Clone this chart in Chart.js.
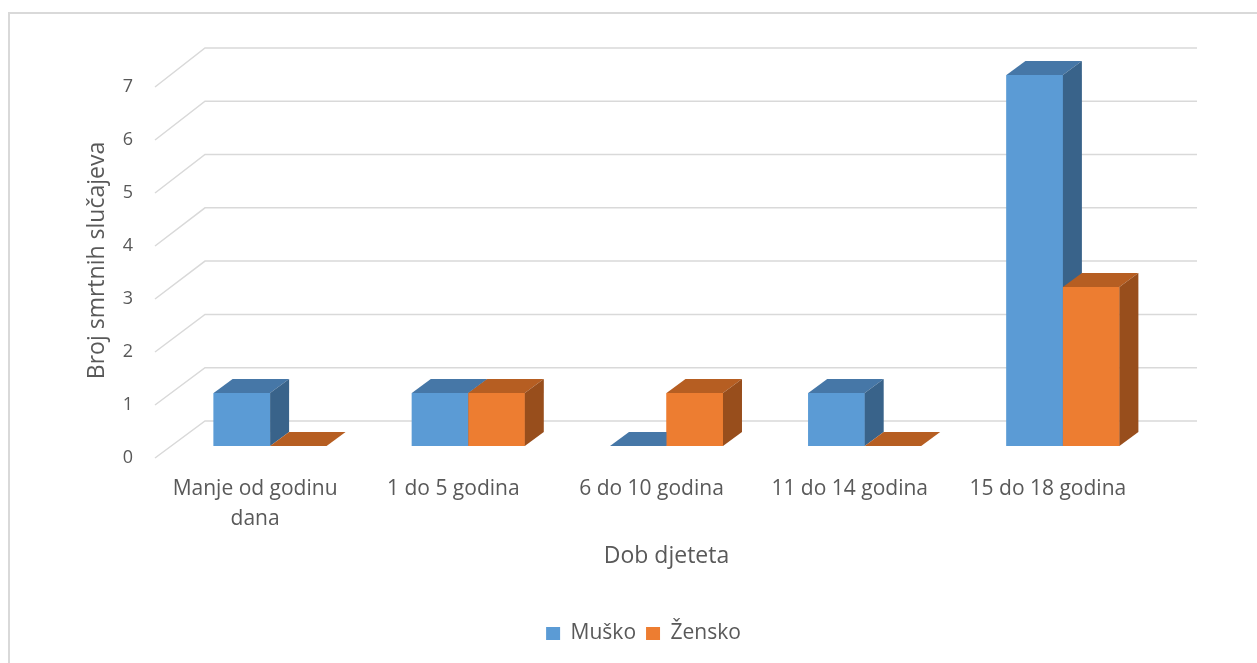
<!DOCTYPE html>
<html>
<head>
<meta charset="utf-8">
<script src="https://cdn.jsdelivr.net/npm/chart.js@4"></script>
<style>
  html, body { margin: 0; padding: 0; background: #fff; }
  #wrap { width: 1257px; height: 663px; position: relative; }
</style>
</head>
<body>
<div id="wrap"><canvas id="chart"></canvas></div>
<script>
// values
const categories = [['Manje od godinu', 'dana'], '1 do 5 godina', '6 do 10 godina', '11 do 14 godina', '15 do 18 godina'];
const musko = [1, 1, 0, 1, 7];
const zensko = [0, 1, 1, 0, 3];
const yMax = 7;

const COLORS = {
  blue: '#5b9bd5',
  blueTop: '#4677a7',
  blueSide: '#39638a',
  orange: '#ed7d31',
  orangeTop: '#b65e22',
  orangeSide: '#984e1c',
  grid: '#d9d9d9',
  text: '#595959'
};
const FONT = '"Open Sans", "Noto Sans", sans-serif';

// 3d depth of the bars
const DX = 19, DY = -14;

function poly(ctx, pts, fill) {
  ctx.beginPath();
  ctx.moveTo(pts[0][0], pts[0][1]);
  for (let i = 1; i < pts.length; i++) ctx.lineTo(pts[i][0], pts[i][1]);
  ctx.closePath();
  ctx.fillStyle = fill;
  ctx.fill();
}

const fake3d = {
  id: 'fake3d',
  beforeDraw(chart) {
    const ctx = chart.ctx;
    ctx.save();
    ctx.strokeStyle = COLORS.grid;
    ctx.lineWidth = 2;
    ctx.strokeRect(9, 13, 1400, 800);
    ctx.restore();
  },
  // floor/wall grid lines: short diagonal at the front, then along the back wall
  beforeDatasetsDraw(chart) {
    const ctx = chart.ctx;
    const ca = chart.chartArea;
    const ys = chart.scales.y;
    ctx.save();
    ctx.strokeStyle = COLORS.grid;
    ctx.lineWidth = 1.5;
    ys.ticks.forEach(t => {
      const yp = ys.getPixelForValue(t.value);
      const yb = yp - 25 - t.value * 0.3;
      ctx.beginPath();
      ctx.moveTo(ca.left - 16, yp + 12);
      ctx.lineTo(ca.left + 34, yb);
      ctx.lineTo(ca.right + 35, yb);
      ctx.stroke();
    });
    ctx.restore();
  },
  // redraw bars in dataset order so the orange ones sit over the blue sides
  afterDatasetsDraw(chart) {
    const ctx = chart.ctx;
    ctx.save();
    chart.data.datasets.forEach((ds, i) => {
      const meta = chart.getDatasetMeta(i);
      meta.data.forEach(bar => {
        const { x, y, base, width } = bar.getProps(['x', 'y', 'base', 'width'], true);
        const l = x - width / 2, r = x + width / 2;
        bar.draw(ctx);
        poly(ctx, [[l, y], [l + DX, y + DY], [r + DX, y + DY], [r, y]], ds.topColor);
        if (base - y > 0.5) {
          poly(ctx, [[r, y], [r + DX, y + DY], [r + DX, base + DY], [r, base]], ds.sideColor);
        }
      });
    });
    ctx.restore();
  }
};

new Chart(document.getElementById('chart'), {
  type: 'bar',
  data: {
    labels: categories,
    datasets: [
      {
        label: 'Muško',
        data: musko,
        yAxisID: 'y',
        backgroundColor: COLORS.blue,
        topColor: COLORS.blueTop,
        sideColor: COLORS.blueSide,
        borderWidth: 0
      },
      {
        label: 'Žensko',
        data: zensko,
        yAxisID: 'y',
        backgroundColor: COLORS.orange,
        topColor: COLORS.orangeTop,
        sideColor: COLORS.orangeSide,
        borderWidth: 0
      }
    ]
  },
  options: {
    responsive: true,
    maintainAspectRatio: false,
    animation: false,
    layout: { padding: { left: 30, top: 75, right: 0, bottom: 9 } },
    datasets: { bar: { categoryPercentage: 0.57, barPercentage: 1 } },
    plugins: {
      tooltip: { enabled: false },
      legend: {
        position: 'bottom',
        labels: {
          color: COLORS.text,
          font: { family: FONT, size: 21 },
          boxWidth: 14,
          boxHeight: 13,
          padding: 10
        }
      }
    },
    scales: {
      x: {
        grid: { display: false, drawTicks: false },
        border: { display: false },
        afterFit: s => { s.height = 167; },
        ticks: {
          color: COLORS.text,
          font: { family: FONT, size: 21, lineHeight: 1.43 },
          padding: 28,
          labelOffset: -15,
          maxRotation: 0,
          autoSkip: false
        },
        title: {
          display: true,
          text: 'Dob djeteta',
          color: COLORS.text,
          font: { family: FONT, size: 23 },
          padding: { top: 0, bottom: 43 }
        }
      },
      y: {
        min: 0,
        max: yMax,
        grid: { display: false, drawTicks: false },
        border: { display: false },
        afterFit: s => { s.width = 141; },
        ticks: {
          stepSize: 1,
          color: COLORS.text,
          font: { family: FONT, size: 18 },
          padding: 38,
          labelOffset: 12
        },
        title: {
          display: true,
          text: 'Broj smrtnih slučajeva',
          color: COLORS.text,
          font: { family: FONT, size: 23 },
          padding: { top: 54, bottom: 0 }
        }
      },
      // empty right-hand space, so the plot ends where the reference does
      yRight: {
        position: 'right',
        grid: { display: false, drawTicks: false },
        border: { display: false },
        ticks: { display: false },
        afterFit: s => { s.width = 95; }
      }
    }
  },
  plugins: [fake3d]
});
</script>
</body>
</html>
